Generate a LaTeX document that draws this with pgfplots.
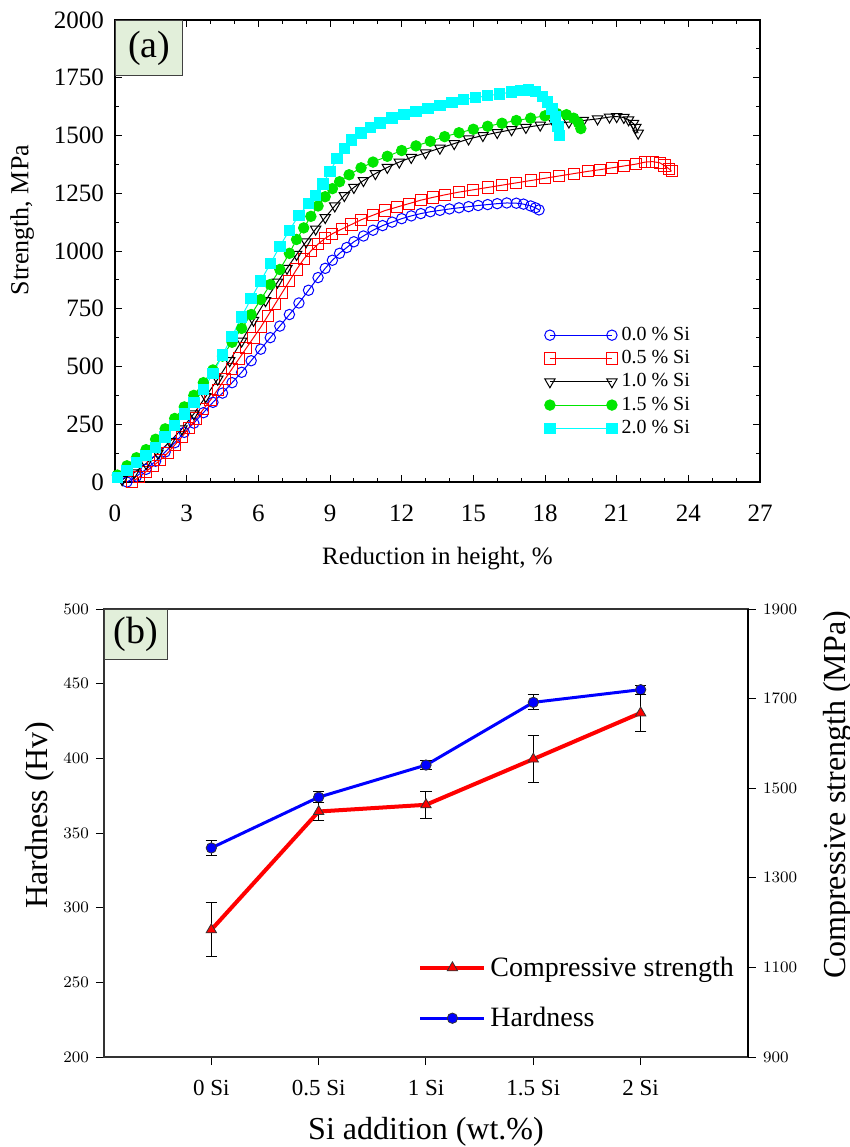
\documentclass[border=0pt]{standalone}
\usepackage{pgfplots}
\pgfplotsset{compat=1.18}
\usepackage{fontspec}
\setmainfont{Liberation Serif}
\newfontfamily\sansf{Liberation Sans}
\definecolor{boxgreen}{RGB}{226,239,218}
\definecolor{mygreen}{RGB}{0,230,0}
\definecolor{mycyan}{RGB}{0,255,255}
\begin{document}
\begin{tikzpicture}
\useasboundingbox (0,0) rectangle (425pt,-573.5pt);
% ---------------- panel (a)
\begin{axis}[
 at={(57.5pt,-241pt)}, anchor=south west,
 scale only axis, width=322.5pt, height=231pt,
 xmin=0, xmax=27, ymin=0, ymax=2000,
 xtick={0,3,...,27}, ytick={0,250,...,2000},
 minor x tick num=2, minor y tick num=1,
 tick align=inside, major tick length=3.5pt, minor tick length=2pt,
 tick style={black, line width=0.5pt},
 axis line style={line width=0.8pt},
 /pgf/number format/assume math mode=true,
 /pgf/number format/1000 sep={},
 ticklabel style={font=\fontsize{12.5}{14}\selectfont},
 xticklabel style={yshift=-8pt},
 yticklabel style={xshift=-2pt},
 xlabel={Reduction in height, \%},
 ylabel={Strength, MPa},
 xlabel style={font=\fontsize{12.5}{14}\selectfont, at={(axis description cs:0.5,-0.165)}, anchor=center},
 ylabel style={font=\fontsize{13}{14}\selectfont, at={(axis description cs:-0.144,0.567)}, anchor=center},
 legend style={draw=none, fill=none, at={(axis description cs:0.665,0.345)}, anchor=north west,
   font=\fontsize{10}{11}\selectfont, row sep=-0.5pt, inner sep=0pt},
 legend cell align=left,
 legend image code/.code={\draw[mark repeat=2,mark phase=1,#1] plot coordinates {(0pt,0pt)(15.5pt,0pt)(31pt,0pt)};},
]
\addplot[blue, line width=0.5pt, mark=o, mark size=2.6pt] coordinates {
(0.5,0)(0.9,25)(1.3,55)(1.7,90)(2.1,130)(2.5,170)(2.9,215)(3.3,255)(3.7,300)(4.1,345)(4.5,385)(4.9,430)(5.3,475)(5.7,525)(6.1,575)(6.5,625)(6.9,675)(7.3,725)(7.7,775)(8.1,830)(8.5,885)(8.8,925)(9.1,960)(9.4,990)(9.7,1015)(10.0,1040)(10.4,1065)(10.8,1090)(11.2,1110)(11.6,1125)(12.0,1140)(12.4,1152)(12.8,1162)(13.2,1170)(13.6,1176)(14.0,1182)(14.4,1187)(14.8,1192)(15.2,1197)(15.6,1201)(16.0,1205)(16.4,1208)(16.8,1207)(17.1,1203)(17.4,1195)(17.6,1187)(17.75,1178)};
\addlegendentry{0.0 \% Si}
\addplot[red, line width=0.5pt, mark=square, mark size=2.8pt] coordinates {
(0.7,0)(1.0,20)(1.3,45)(1.6,70)(1.9,95)(2.2,125)(2.5,160)(2.8,195)(3.1,235)(3.4,275)(3.7,315)(4.0,355)(4.3,400)(4.6,445)(4.9,490)(5.2,535)(5.5,580)(5.8,625)(6.1,670)(6.4,720)(6.7,770)(7.0,820)(7.3,870)(7.6,920)(7.9,965)(8.2,1000)(8.5,1030)(8.8,1055)(9.1,1075)(9.5,1095)(9.9,1115)(10.3,1135)(10.8,1155)(11.3,1175)(11.8,1190)(12.3,1205)(12.8,1220)(13.3,1232)(13.8,1243)(14.4,1255)(15.0,1265)(15.6,1275)(16.2,1285)(16.8,1295)(17.4,1305)(18.0,1315)(18.6,1325)(19.2,1335)(19.8,1345)(20.3,1352)(20.8,1360)(21.3,1368)(21.8,1376)(22.2,1385)(22.5,1387)(22.8,1382)(23.0,1370)(23.2,1355)(23.3,1345)};
\addlegendentry{0.5 \% Si}
\addplot[black, line width=0.5pt, mark=triangle, mark size=3pt, mark options={rotate=180}] coordinates {
(0.3,10)(0.8,40)(1.3,80)(1.8,125)(2.3,175)(2.8,230)(3.3,295)(3.8,370)(4.3,445)(4.8,525)(5.3,610)(5.8,700)(6.3,785)(6.8,865)(7.2,925)(7.6,985)(8.0,1040)(8.4,1095)(8.8,1145)(9.2,1195)(9.6,1240)(10.0,1275)(10.4,1305)(10.9,1335)(11.4,1362)(11.9,1385)(12.4,1405)(13.0,1425)(13.6,1445)(14.2,1465)(14.8,1485)(15.4,1500)(16.0,1513)(16.6,1525)(17.2,1535)(17.8,1545)(18.4,1552)(19.0,1558)(19.6,1565)(20.2,1572)(20.7,1580)(21.0,1582)(21.3,1578)(21.5,1568)(21.7,1552)(21.8,1535)(21.9,1510)};
\addlegendentry{1.0 \% Si}
\addplot[mygreen, line width=0.5pt, mark=*, mark size=2.6pt] coordinates {
(0.1,30)(0.5,70)(0.9,105)(1.3,140)(1.7,185)(2.1,230)(2.5,275)(2.9,325)(3.3,375)(3.7,430)(4.1,485)(4.5,545)(4.9,605)(5.3,665)(5.7,725)(6.1,790)(6.5,855)(6.9,920)(7.3,990)(7.6,1050)(7.9,1100)(8.2,1150)(8.5,1195)(8.8,1235)(9.1,1270)(9.4,1300)(9.8,1330)(10.3,1360)(10.8,1385)(11.4,1410)(12.0,1435)(12.6,1455)(13.2,1475)(13.8,1495)(14.4,1512)(15.0,1527)(15.6,1540)(16.2,1553)(16.8,1565)(17.4,1575)(18.0,1585)(18.5,1595)(18.9,1590)(19.2,1575)(19.4,1555)(19.5,1530)};
\addlegendentry{1.5 \% Si}
\addplot[mycyan, line width=0.5pt, mark=square*, mark size=2.6pt] coordinates {
(0.1,20)(0.5,50)(0.9,85)(1.3,115)(1.7,150)(2.1,195)(2.5,245)(2.9,295)(3.3,345)(3.7,400)(4.1,470)(4.5,550)(4.9,630)(5.3,715)(5.7,795)(6.1,870)(6.5,945)(6.9,1020)(7.3,1090)(7.7,1155)(8.1,1205)(8.4,1240)(8.7,1290)(9.0,1345)(9.3,1400)(9.6,1445)(9.9,1480)(10.3,1510)(10.7,1535)(11.1,1555)(11.6,1575)(12.1,1590)(12.6,1605)(13.1,1618)(13.6,1630)(14.1,1643)(14.6,1655)(15.1,1664)(15.6,1672)(16.1,1680)(16.6,1688)(17.0,1695)(17.3,1697)(17.6,1690)(17.9,1670)(18.1,1645)(18.3,1615)(18.45,1580)(18.55,1540)(18.6,1500)};
\addlegendentry{2.0 \% Si}
\node[draw=black!75, fill=boxgreen, line width=0.6pt, anchor=north west, minimum width=33.5pt, minimum height=27.5pt, inner sep=0pt, font=\fontsize{19}{20}\selectfont] at (rel axis cs:0,1) {(a)};
\end{axis}
% ---------------- panel (b) left axis
\begin{axis}[
 at={(52pt,-528.5pt)}, anchor=south west,
 scale only axis, width=322pt, height=224pt,
 xmin=-1, xmax=5, ymin=200, ymax=500,
 xtick={0,...,4}, xticklabels={0 Si,0.5 Si,1 Si,1.5 Si,2 Si},
 ytick={200,250,...,500},
 xtick pos=left, ytick pos=left, tick align=outside,
 major tick length=4pt,
 tick style={black, line width=0.5pt},
 axis line style={line width=0.8pt, black!80},
 yticklabel style={font=\sansf\fontsize{8.5}{10}\selectfont},
 xticklabel style={font=\fontsize{11.5}{13}\selectfont, yshift=-4pt},
 xlabel={Si addition (wt.\%)}, ylabel={Hardness (Hv)},
 xlabel style={font=\fontsize{16}{18}\selectfont, at={(axis description cs:0.5,-0.167)}, anchor=center},
 ylabel style={font=\fontsize{16}{18}\selectfont, at={(axis description cs:-0.099,0.54)}, anchor=center},
]
\addplot[blue, line width=1.5pt, mark=*, mark size=2.6pt, mark options={fill=blue, draw=black!80, line width=0.4pt},
 error bars/.cd, y dir=both, y explicit,
 error bar style={black, line width=0.5pt},
 error mark options={rotate=90, mark size=2.8pt, black, line width=0.5pt}]
 coordinates {(0,340) +- (0,5) (1,374) +- (0,3.5) (2,395.5) +- (0,3) (3,437.5) +- (0,5) (4,446) +- (0,3)};
\node[draw=black!75, fill=boxgreen, line width=0.6pt, anchor=north west, minimum width=31.5pt, minimum height=25pt, inner sep=0pt, font=\fontsize{19}{20}\selectfont] at (rel axis cs:0,1) {(b)};
\end{axis}
% ---------------- panel (b) right axis
\begin{axis}[
 at={(52pt,-528.5pt)}, anchor=south west,
 scale only axis, width=322pt, height=224pt,
 xmin=-1, xmax=5, ymin=900, ymax=1900,
 axis y line*=right, axis x line=none,
 ytick={900,1100,...,1900},
 tick align=outside, major tick length=4pt,
 tick style={black, line width=0.5pt},
 axis line style={line width=0.8pt, black},
 /pgf/number format/1000 sep={},
 yticklabel style={font=\sansf\fontsize{8.5}{10}\selectfont},
 ylabel={Compressive strength (MPa)},
 ylabel style={font=\fontsize{16}{18}\selectfont, at={(axis description cs:1.14,0.585)}, anchor=center},
 legend style={draw=none, fill=none, at={(axis description cs:0.4876,0.234)}, anchor=north west,
   font=\fontsize{14}{15}\selectfont, row sep=10pt, inner sep=0pt},
 legend cell align=left,
 legend image code/.code={\draw[mark repeat=2,mark phase=2,#1] plot coordinates {(0pt,0pt)(16pt,0pt)(32pt,0pt)};},
]
\addplot[red, line width=2pt, mark=triangle*, mark size=3pt, mark options={fill=red, draw=black!80, line width=0.4pt},
 error bars/.cd, y dir=both, y explicit,
 error bar style={black, line width=0.5pt},
 error mark options={rotate=90, mark size=2.8pt, black, line width=0.5pt}]
 coordinates {(0,1184) +- (0,60) (1,1448) +- (0,20) (2,1463) +- (0,30) (3,1565) +- (0,52) (4,1668) +- (0,42)};
\addlegendentry{Compressive strength}
\addlegendimage{blue, line width=1.5pt, mark=*, mark size=2.6pt, mark options={fill=blue, draw=black!80, line width=0.4pt}}
\addlegendentry{Hardness}
\end{axis}
\end{tikzpicture}
\end{document}
